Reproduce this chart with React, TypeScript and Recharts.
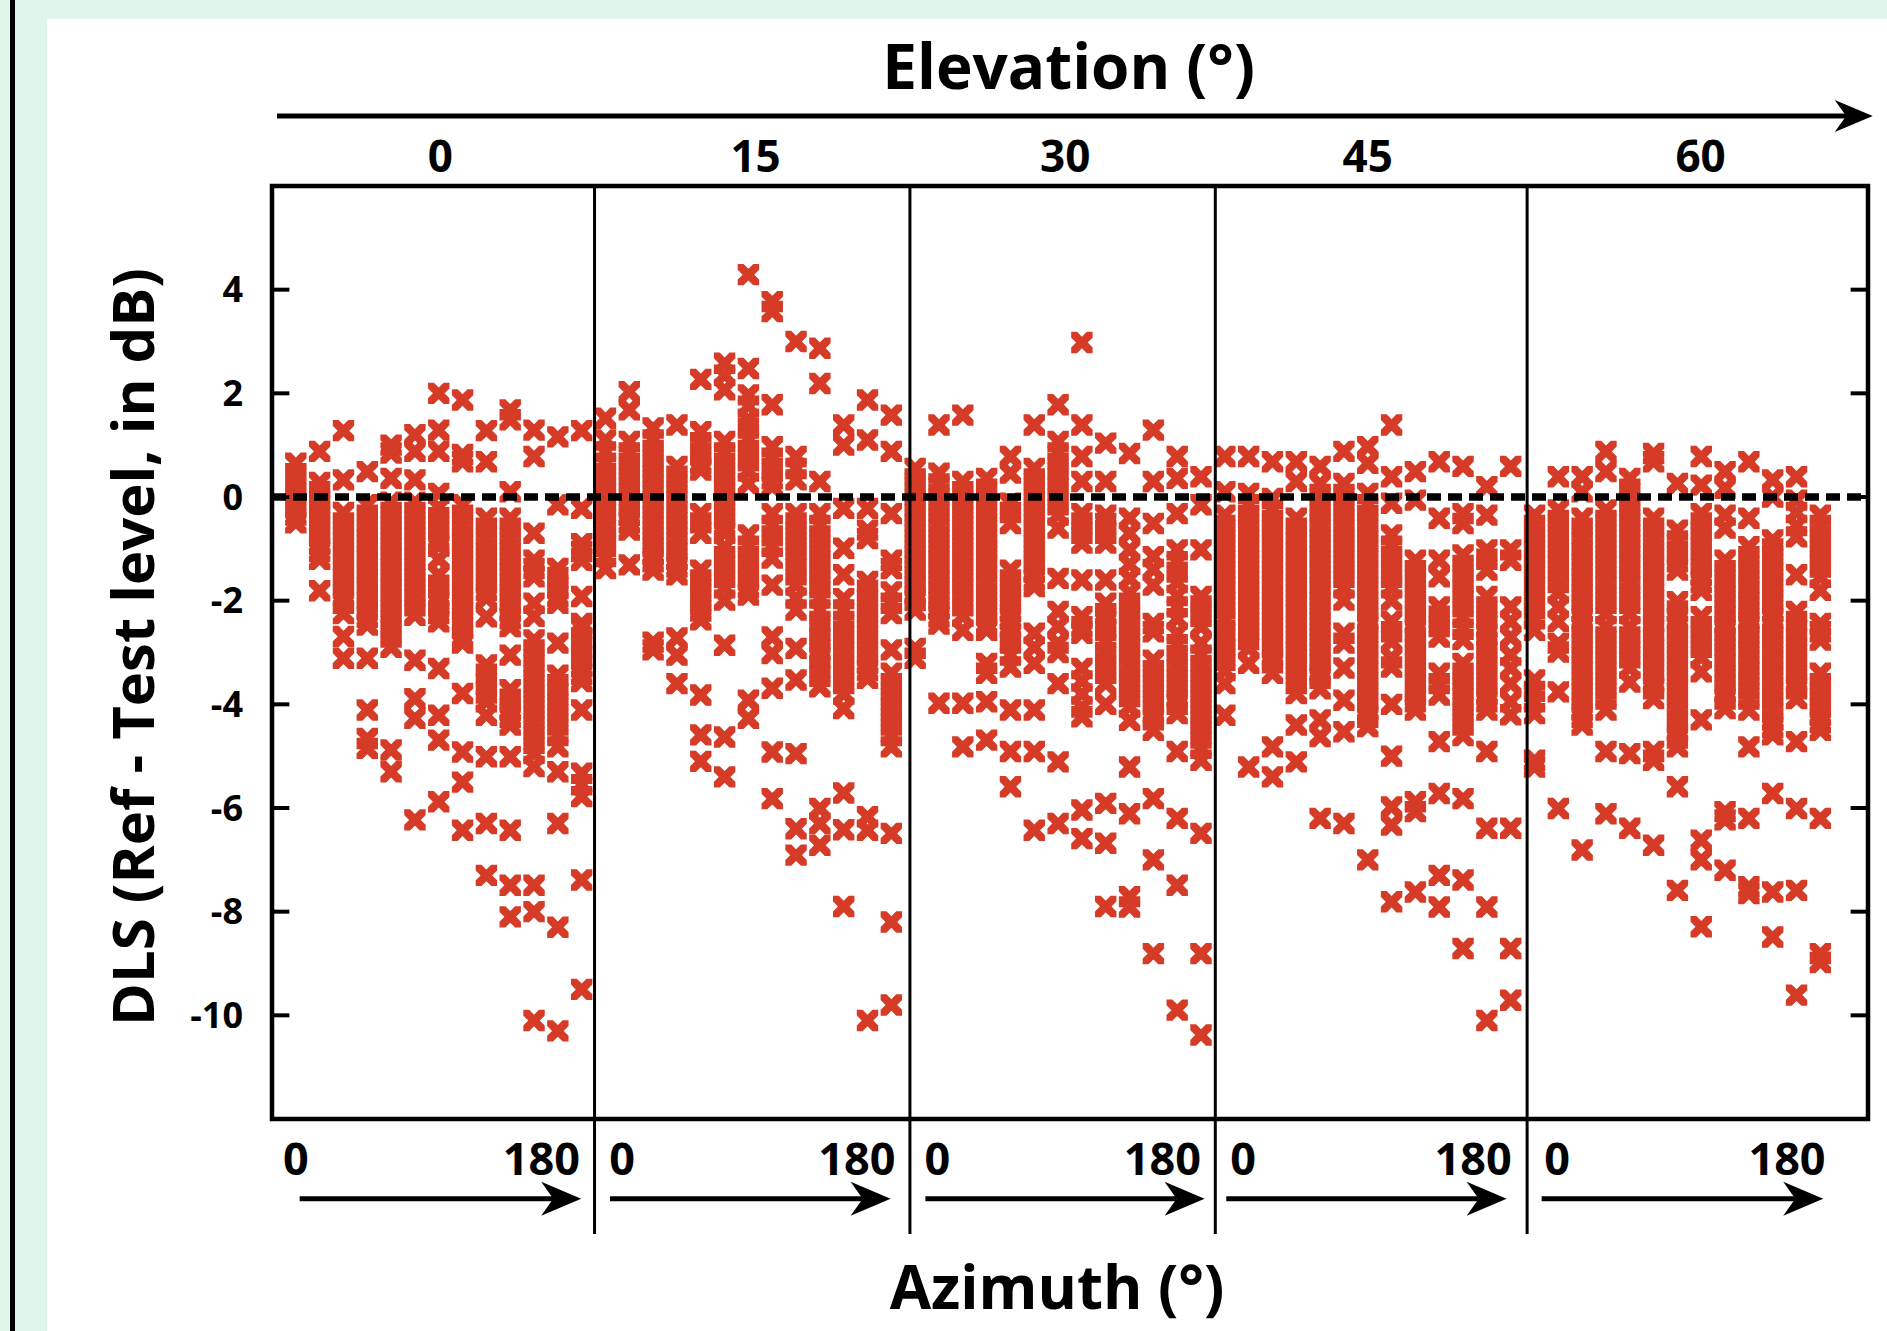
import React from "react";
import { ScatterChart, Scatter, XAxis, YAxis, ReferenceLine, ReferenceArea, ReferenceDot } from "recharts";

const FONT = "'Open Sans', 'Liberation Sans', sans-serif";
const RED = "#d53b26";

// DLS values (dB), one inner array per azimuth step (0..180 in 15 deg steps)
const elev0: number[][] = [
  [0.65, 0.45, 0.25, 0.05, -0.15, -0.35, -0.5],
  [0.88, 0.28, 0.1, -0.1, -0.3, -0.5, -0.7, -0.9, -1.05, -1.2, -1.81],
  [1.28, 0.33, -0.3, -0.5, -0.7, -0.9, -1.1, -1.3, -1.5, -1.7, -1.9, -2.05, -2.25, -2.69, -3.11],
  [0.49, -0.15, -0.35, -0.55, -0.75, -0.95, -1.15, -1.35, -1.55, -1.75, -1.95, -2.15, -2.32, -2.47, -3.11, -4.11, -4.66, -4.85],
  [1.0, 0.85, 0.36, -0.1, -0.3, -0.5, -0.7, -0.9, -1.1, -1.3, -1.5, -1.7, -1.9, -2.1, -2.3, -2.5, -2.7, -2.9, -4.88, -5.3],
  [1.2, 0.88, 0.33, -0.1, -0.3, -0.5, -0.7, -0.9, -1.1, -1.3, -1.5, -1.7, -1.9, -2.1, -2.28, -3.15, -3.89, -4.27, -6.23],
  [2.0, 1.29, 0.88, 0.07, -0.2, -0.4, -0.6, -0.8, -0.95, -1.2, -1.5, -1.7, -1.9, -2.05, -2.25, -2.41, -3.31, -4.21, -4.69, -5.88],
  [1.87, 0.82, 0.68, -0.15, -0.35, -0.55, -0.75, -0.95, -1.15, -1.35, -1.55, -1.75, -1.95, -2.15, -2.35, -2.53, -2.7, -2.82, -3.79, -4.92, -5.5, -6.43],
  [1.28, 0.68, -0.41, -0.6, -0.8, -1.0, -1.2, -1.4, -1.6, -1.8, -1.95, -2.31, -3.24, -3.42, -3.6, -3.78, -3.95, -4.21, -5.01, -6.3, -7.3],
  [1.68, 1.49, 0.1, -0.41, -0.6, -0.8, -1.0, -1.2, -1.4, -1.6, -1.8, -2.0, -2.18, -2.35, -2.5, -3.05, -3.72, -3.9, -4.11, -4.25, -4.4, -5.01, -6.43, -7.49, -8.1],
  [1.29, 0.78, -0.7, -1.22, -1.38, -1.54, -2.05, -2.3, -2.76, -2.95, -3.15, -3.35, -3.55, -3.75, -3.95, -4.15, -4.35, -4.55, -4.75, -4.95, -5.2, -7.49, -8.0, -10.1],
  [1.16, -0.15, -1.38, -1.55, -1.75, -1.92, -2.05, -2.82, -3.44, -3.62, -3.8, -4.0, -4.2, -4.4, -4.6, -4.82, -5.3, -6.3, -8.3, -10.3],
  [1.28, -0.22, -0.9, -1.05, -1.22, -1.92, -2.44, -2.53, -2.72, -2.9, -3.08, -3.27, -3.42, -3.56, -4.11, -5.33, -5.55, -5.78, -7.39, -9.5],
];

const elev15: number[][] = [
  [1.52, 1.1, 0.87, 0.65, 0.45, 0.25, 0.05, -0.15, -0.35, -0.55, -0.75, -0.95, -1.15, -1.38],
  [2.03, 1.68, 1.07, 0.85, 0.65, 0.45, 0.25, 0.05, -0.15, -0.35, -0.5, -0.64, -1.31],
  [1.33, 1.1, 0.9, 0.7, 0.5, 0.3, 0.1, -0.1, -0.3, -0.5, -0.7, -0.9, -1.1, -1.25, -1.41, -2.8, -2.95],
  [1.39, 0.59, 0.4, 0.2, 0.0, -0.2, -0.4, -0.6, -0.8, -1.0, -1.2, -1.35, -1.5, -2.72, -3.05, -3.6],
  [2.27, 1.26, 1.05, 0.85, 0.65, 0.52, -0.32, -0.5, -0.7, -1.41, -1.6, -1.8, -2.0, -2.2, -2.37, -3.82, -4.59, -5.1],
  [2.58, 2.35, 2.07, 1.07, 0.85, 0.65, 0.45, 0.25, 0.05, -0.15, -0.35, -0.55, -0.7, -0.96, -1.15, -1.35, -1.55, -1.75, -1.99, -2.86, -4.63, -5.4],
  [4.29, 2.48, 1.97, 1.75, 1.5, 1.33, 1.1, 0.9, 0.7, 0.5, 0.26, -0.73, -0.95, -1.15, -1.35, -1.55, -1.75, -1.89, -3.92, -4.27],
  [3.77, 3.58, 1.78, 0.97, 0.75, 0.55, 0.35, 0.2, -0.32, -0.55, -0.75, -0.95, -1.18, -1.7, -2.7, -3.02, -3.69, -4.92, -5.82],
  [3.0, 0.78, 0.55, 0.33, -0.32, -0.5, -0.7, -0.9, -1.1, -1.3, -1.5, -1.7, -1.95, -2.18, -2.92, -3.53, -4.95, -6.4, -6.91],
  [2.87, 2.19, 0.3, -0.32, -0.55, -0.75, -0.95, -1.15, -1.35, -1.55, -1.75, -1.95, -2.18, -2.4, -2.57, -2.75, -2.95, -3.1, -3.28, -3.46, -3.66, -6.01, -6.3, -6.72],
  [1.39, 1.0, -0.22, -0.99, -1.5, -1.96, -2.18, -2.4, -2.6, -2.8, -3.0, -3.2, -3.4, -3.6, -3.8, -4.08, -5.71, -6.42, -7.9],
  [1.87, 1.1, -0.22, -0.64, -0.8, -1.63, -1.8, -2.0, -2.2, -2.4, -2.6, -2.8, -3.0, -3.2, -3.35, -3.5, -6.17, -6.43, -10.1],
  [1.58, 0.88, -0.32, -1.22, -1.38, -1.83, -2.05, -2.25, -2.95, -3.4, -3.6, -3.8, -4.0, -4.2, -4.4, -4.6, -4.82, -6.49, -8.2, -9.8],
];

const elev30: number[][] = [
  [0.55, 0.35, 0.15, -0.05, -0.25, -0.45, -0.65, -0.85, -1.05, -1.25, -1.45, -1.65, -1.85, -2.0, -2.18, -2.92, -3.11],
  [1.39, 0.46, 0.25, 0.05, -0.15, -0.35, -0.55, -0.75, -0.95, -1.15, -1.35, -1.55, -1.75, -1.95, -2.15, -2.31, -2.45, -3.98],
  [1.58, 0.3, 0.1, -0.1, -0.3, -0.5, -0.7, -0.9, -1.1, -1.3, -1.5, -1.7, -1.9, -2.1, -2.3, -2.57, -3.98, -4.82],
  [0.36, 0.15, -0.05, -0.25, -0.45, -0.65, -0.85, -1.05, -1.25, -1.45, -1.65, -1.85, -2.05, -2.25, -2.45, -2.57, -3.21, -3.4, -3.95, -4.69],
  [0.78, 0.46, -0.12, -0.3, -0.51, -1.41, -1.6, -1.8, -2.0, -2.2, -2.35, -2.5, -2.65, -2.82, -3.05, -3.28, -4.11, -4.91, -5.59],
  [1.39, 0.55, 0.35, 0.15, -0.05, -0.25, -0.45, -0.65, -0.85, -1.05, -1.25, -1.45, -1.6, -1.73, -2.63, -2.9, -3.21, -4.11, -4.91, -6.43],
  [1.78, 1.07, 0.85, 0.65, 0.45, 0.25, 0.05, -0.15, -0.35, -0.6, -1.57, -2.21, -2.5, -2.82, -3.0, -3.6, -5.11, -6.3],
  [2.98, 1.39, 0.78, 0.3, -0.32, -0.5, -0.7, -0.89, -1.6, -2.31, -2.5, -2.63, -3.31, -3.55, -3.8, -4.05, -4.24, -6.04, -6.59],
  [1.04, 0.3, -0.35, -0.51, -0.7, -0.89, -1.6, -2.05, -2.25, -2.4, -2.57, -2.8, -3.0, -3.2, -3.4, -3.6, -4.0, -5.91, -6.68, -7.9],
  [0.84, -0.41, -0.7, -1.02, -1.3, -1.57, -1.85, -2.05, -2.25, -2.45, -2.65, -2.85, -3.05, -3.25, -3.45, -3.65, -3.85, -4.05, -4.31, -5.21, -6.11, -7.71, -7.91],
  [1.29, 0.3, -0.51, -1.15, -1.4, -1.7, -2.44, -2.6, -3.15, -3.35, -3.55, -3.75, -3.95, -4.15, -4.3, -4.5, -5.82, -7.0, -8.81],
  [0.78, 0.36, -0.32, -1.02, -1.25, -1.45, -1.65, -1.9, -2.12, -2.35, -2.63, -2.85, -3.05, -3.25, -3.45, -3.65, -3.85, -4.0, -4.18, -4.91, -6.2, -7.49, -9.9],
  [0.39, -0.15, -1.02, -1.92, -2.1, -2.3, -2.5, -2.82, -3.05, -3.25, -3.45, -3.65, -3.85, -4.05, -4.25, -4.45, -4.65, -4.85, -5.08, -6.49, -8.81, -10.38],
];

const elev45: number[][] = [
  [0.78, 0.1, -0.35, -0.55, -0.75, -0.95, -1.15, -1.35, -1.55, -1.75, -1.95, -2.15, -2.35, -2.57, -2.75, -2.95, -3.15, -3.35, -3.6, -4.21],
  [0.78, 0.07, -0.15, -0.35, -0.55, -0.75, -0.95, -1.15, -1.35, -1.55, -1.75, -1.95, -2.15, -2.35, -2.55, -2.75, -2.92, -3.21, -5.21],
  [0.68, -0.03, -0.25, -0.45, -0.65, -0.85, -1.05, -1.25, -1.45, -1.65, -1.85, -2.05, -2.25, -2.45, -2.65, -2.85, -3.05, -3.2, -3.4, -4.82, -5.4],
  [0.68, 0.3, -0.41, -0.6, -0.8, -1.0, -1.2, -1.4, -1.6, -1.8, -2.0, -2.2, -2.4, -2.6, -2.8, -3.0, -3.2, -3.4, -3.6, -3.79, -4.4, -5.11],
  [0.59, 0.26, 0.05, -0.15, -0.35, -0.55, -0.75, -0.95, -1.15, -1.35, -1.55, -1.75, -1.95, -2.15, -2.35, -2.55, -2.75, -2.95, -3.15, -3.35, -3.5, -3.7, -4.3, -4.62, -6.2],
  [0.88, 0.26, 0.05, -0.15, -0.35, -0.55, -0.75, -0.95, -1.15, -1.35, -1.55, -1.75, -1.99, -2.63, -2.82, -3.3, -3.92, -4.53, -6.3],
  [0.97, 0.65, 0.07, -0.15, -0.35, -0.55, -0.75, -0.95, -1.15, -1.35, -1.55, -1.75, -1.95, -2.15, -2.35, -2.5, -2.7, -2.9, -3.1, -3.3, -3.5, -3.7, -3.9, -4.1, -4.25, -4.43, -7.0],
  [1.39, 0.39, -0.12, -0.73, -0.95, -1.15, -1.35, -1.55, -1.75, -1.99, -2.4, -2.6, -2.79, -3.1, -3.28, -4.0, -5.0, -5.98, -6.33, -7.81],
  [0.49, -0.06, -1.22, -1.42, -1.62, -1.82, -2.02, -2.22, -2.42, -2.57, -2.75, -2.95, -3.15, -3.35, -3.55, -3.75, -3.95, -4.11, -5.88, -6.07, -7.62],
  [0.68, -0.41, -1.22, -1.54, -2.12, -2.3, -2.5, -2.7, -3.4, -3.6, -3.82, -4.72, -5.72, -7.3, -7.91],
  [0.59, -0.32, -0.51, -1.12, -1.32, -1.52, -1.72, -1.92, -2.12, -2.32, -2.55, -2.75, -3.21, -3.4, -3.6, -3.8, -4.0, -4.2, -4.4, -4.6, -5.82, -7.39, -8.71],
  [0.2, -0.35, -1.02, -1.2, -1.41, -1.92, -2.12, -2.32, -2.5, -2.65, -2.82, -3.0, -3.2, -3.4, -3.6, -3.8, -3.95, -4.11, -4.91, -6.39, -7.91, -10.1],
  [0.59, -1.02, -1.22, -2.12, -2.4, -2.7, -3.05, -3.3, -3.6, -3.95, -4.2, -6.39, -8.71, -9.71],
];

const elev60: number[][] = [
  [-0.35, -0.55, -0.75, -0.95, -1.15, -1.35, -1.55, -1.75, -1.95, -2.15, -2.35, -2.57, -3.53, -3.75, -3.95, -4.18, -5.08, -5.21],
  [0.39, -0.25, -0.45, -0.65, -0.85, -1.05, -1.25, -1.45, -1.65, -1.85, -2.12, -2.4, -2.82, -2.99, -3.76, -6.01],
  [0.39, 0.1, -0.41, -0.6, -0.8, -1.0, -1.2, -1.4, -1.6, -1.8, -2.0, -2.2, -2.35, -2.5, -2.7, -2.9, -3.1, -3.3, -3.5, -3.7, -3.9, -4.1, -4.25, -4.4, -6.81],
  [0.88, 0.49, -0.25, -0.45, -0.65, -0.85, -1.05, -1.25, -1.45, -1.65, -1.85, -2.05, -2.25, -2.5, -2.7, -2.9, -3.1, -3.3, -3.5, -3.7, -3.9, -4.11, -4.91, -6.11],
  [0.36, 0.15, -0.05, -0.25, -0.45, -0.65, -0.85, -1.05, -1.25, -1.45, -1.65, -1.85, -2.05, -2.25, -2.5, -2.7, -2.9, -3.1, -3.3, -3.57, -4.95, -6.39],
  [0.84, 0.68, -0.41, -0.6, -0.8, -1.0, -1.2, -1.4, -1.6, -1.8, -2.0, -2.2, -2.4, -2.57, -2.75, -2.95, -3.15, -3.35, -3.55, -3.7, -3.89, -4.91, -5.08, -6.72],
  [0.26, -0.64, -0.85, -1.05, -1.25, -1.41, -2.02, -2.2, -2.35, -2.5, -2.7, -2.9, -3.1, -3.3, -3.5, -3.7, -3.9, -4.1, -4.3, -4.5, -4.65, -4.82, -5.59, -7.59],
  [0.78, 0.23, -0.32, -0.5, -0.7, -0.9, -1.1, -1.3, -1.5, -1.65, -1.8, -2.31, -2.5, -2.7, -2.9, -3.1, -3.37, -4.3, -6.62, -7.0, -8.29],
  [0.49, 0.17, -0.35, -0.6, -1.22, -1.42, -1.62, -1.82, -2.02, -2.22, -2.42, -2.57, -2.75, -2.95, -3.15, -3.35, -3.55, -3.75, -3.9, -4.08, -6.07, -6.23, -7.2],
  [0.68, -0.41, -0.96, -1.15, -1.35, -1.55, -1.75, -1.95, -2.15, -2.35, -2.5, -2.7, -2.9, -3.1, -3.3, -3.5, -3.7, -3.9, -4.11, -4.82, -6.2, -7.52, -7.65],
  [0.33, 0.0, -0.83, -1.0, -1.2, -1.4, -1.6, -1.8, -2.0, -2.2, -2.35, -2.5, -2.7, -2.9, -3.1, -3.3, -3.5, -3.7, -3.9, -4.1, -4.3, -4.45, -4.59, -5.72, -7.62, -8.49],
  [0.39, -0.06, -0.3, -0.55, -0.77, -1.5, -2.21, -2.4, -2.57, -2.75, -2.95, -3.15, -3.35, -3.55, -3.7, -3.89, -4.72, -6.01, -7.59, -9.61],
  [-0.35, -0.55, -0.75, -0.95, -1.15, -1.35, -1.55, -1.8, -2.44, -2.6, -2.76, -3.4, -3.6, -3.8, -4.0, -4.2, -4.35, -4.5, -6.2, -8.81, -8.98],
];

const elevations = [elev0, elev15, elev30, elev45, elev60];
const elevationLabels = ["0", "15", "30", "45", "60"];
const elevationLabelPos = [6.07, 19.3, 32.3, 45.0, 58.97];
const azimuthLabels = ["0", "180", "0", "180", "0", "180", "0", "180", "0", "180"];
const azimuthLabelPos = [0, 10.31, 13.7, 23.55, 26.93, 36.38, 39.77, 49.42, 52.95, 62.6];
const panelDividers = [12.54, 25.78, 38.6, 51.69];
const azimuthArrows = [
  [0.16, 11.98],
  [13.19, 24.97],
  [26.43, 38.15],
  [39.06, 50.83],
  [52.3, 64.12],
];
const yTicks = [-10, -8, -6, -4, -2, 0, 2, 4];

// flatten: x = running azimuth index across the five elevation panels
const points: { x: number; y: number }[] = [];
elevations.forEach((cols, e) => {
  cols.forEach((vals, j) => {
    vals.forEach((v) => points.push({ x: e * 13 + j, y: v }));
  });
});

const H = 10.7;
const A = 5.8;
const Cross = (props: any) => {
  const { cx, cy } = props;
  if (cx == null || cy == null) return null;
  const d =
    `M${cx - H},${cy - H}h${A}L${cx},${cy - A}L${cx + H - A},${cy - H}h${A}v${A}` +
    `L${cx + A},${cy}L${cx + H},${cy + H - A}v${A}h${-A}L${cx},${cy + A}` +
    `L${cx - H + A},${cy + H}h${-A}v${-A}L${cx - A},${cy}L${cx - H},${cy - H + A}Z`;
  return <path d={d} fill={RED} />;
};

const arrowShape = (head: number, half: number, width: number) => (props: any) => {
  const { x1, y1, x2, y2 } = props;
  const notch = head * 0.3;
  return (
    <g>
      <line x1={x1} y1={y1} x2={x2 - head + notch} y2={y2} stroke="#000" strokeWidth={width} />
      <path
        d={`M${x2},${y2}L${x2 - head},${y2 - half}L${x2 - head + notch},${y2}L${x2 - head},${y2 + half}Z`}
        fill="#000"
      />
    </g>
  );
};

const textStyle = { fontFamily: FONT, fontWeight: 700, fill: "#000" } as const;

const textShape = (value: string, size: number, dy: number) => (props: any) => (
  <text x={props.cx} y={props.cy + dy} textAnchor="middle" fontSize={size} {...textStyle}>
    {value}
  </text>
);

const Z = 700;

export default function App() {
  return (
    <div style={{ position: "absolute", left: 0, top: 0, width: 1887, height: 1331, background: "#dff7ea" }}>
      <div style={{ position: "absolute", left: 10, top: 0, width: 5, height: 1331, background: "#000" }} />
      <div style={{ position: "absolute", left: 47, top: 19, right: 0, bottom: 0, background: "#fff" }} />
      <div style={{ position: "absolute", left: 0, top: 0 }}>
        <ScatterChart width={1887} height={1331} margin={{ top: 186, right: 19, bottom: 211, left: 0 }}>
          <XAxis
            xAxisId="main"
            type="number"
            dataKey="x"
            domain={[-1, 66]}
            allowDataOverflow
            ticks={azimuthLabelPos}
            interval={0}
            height={1}
            axisLine={false}
            tickLine={false}
            tickSize={0}
            tickMargin={0}
            tick={(p: any) => (
              <text x={p.x} y={p.y + 56} textAnchor="middle" fontSize={45} {...textStyle}>
                {azimuthLabels[p.index]}
              </text>
            )}
            label={(p: any) => {
              const vb = p.viewBox;
              return (
                <text x={vb.x + vb.width / 2 - 13} y={vb.y + 190} textAnchor="middle" fontSize={60} {...textStyle}>
                  Azimuth (°)
                </text>
              );
            }}
          />
          <YAxis
            yAxisId="y"
            type="number"
            dataKey="y"
            domain={[-12, 6]}
            allowDataOverflow
            ticks={yTicks}
            interval={0}
            width={272}
            axisLine={false}
            tickLine={false}
            tickSize={0}
            tickMargin={29}
            tick={{ fontSize: 36, fontFamily: FONT, fontWeight: 700, fill: "#000" }}
            label={() => {
              const cx = 154;
              const cy = 647;
              return (
                <text
                  x={cx}
                  y={cy}
                  transform={`rotate(-90 ${cx} ${cy})`}
                  textAnchor="middle"
                  fontSize={58}
                  {...textStyle}
                >
                  DLS (Ref - Test level, in dB)
                </text>
              );
            }}
          />

          <Scatter data={points} xAxisId="main" yAxisId="y" shape={Cross} isAnimationActive={false} />

          <ReferenceLine
            xAxisId="main"
            yAxisId="y"
            y={0}
            stroke="#000"
            strokeWidth={7.5}
            strokeDasharray="14 7"
            zIndex={Z}
          />

          {panelDividers.map((d) => (
            <ReferenceLine
              key={`div-${d}`}
              xAxisId="main"
              yAxisId="y"
              segment={[{ x: d, y: 6 }, { x: d, y: -14.22 }]}
              stroke="#000"
              strokeWidth={3}
              ifOverflow="visible"
              zIndex={Z}
            />
          ))}

          {yTicks.map((t) => (
            <ReferenceLine
              key={`tl-${t}`}
              xAxisId="main"
              yAxisId="y"
              segment={[{ x: -1, y: t }, { x: -0.27, y: t }]}
              stroke="#000"
              strokeWidth={4}
              ifOverflow="visible"
              zIndex={Z}
            />
          ))}
          {yTicks.map((t) => (
            <ReferenceLine
              key={`tr-${t}`}
              xAxisId="main"
              yAxisId="y"
              segment={[{ x: 65.27, y: t }, { x: 66, y: t }]}
              stroke="#000"
              strokeWidth={4}
              ifOverflow="visible"
              zIndex={Z}
            />
          ))}

          <ReferenceLine
            xAxisId="main"
            yAxisId="y"
            segment={[{ x: -0.79, y: 7.35 }, { x: 66.2, y: 7.35 }]}
            ifOverflow="visible"
            shape={arrowShape(38, 16, 5)}
            zIndex={Z}
          />
          {azimuthArrows.map(([a, b]) => (
            <ReferenceLine
              key={`arr-${a}`}
              xAxisId="main"
              yAxisId="y"
              segment={[{ x: a, y: -13.54 }, { x: b, y: -13.54 }]}
              ifOverflow="visible"
              shape={arrowShape(40, 17, 5)}
              zIndex={Z}
            />
          ))}

          {elevationLabelPos.map((pos, i) => (
            <ReferenceDot
              key={`el-${i}`}
              xAxisId="main"
              yAxisId="y"
              x={pos}
              y={6}
              r={0}
              ifOverflow="visible"
              shape={textShape(elevationLabels[i], 44, -14)}
              zIndex={Z}
            />
          ))}
          <ReferenceDot
            xAxisId="main"
            yAxisId="y"
            x={32.44}
            y={7.88}
            r={0}
            ifOverflow="visible"
            shape={textShape("Elevation (°)", 62, 0)}
            zIndex={Z}
          />

          <ReferenceArea
            xAxisId="main"
            yAxisId="y"
            x1={-1}
            x2={66}
            y1={-12}
            y2={6}
            fill="none"
            stroke="#000"
            strokeWidth={4.5}
            ifOverflow="visible"
            zIndex={Z}
          />
        </ScatterChart>
      </div>
    </div>
  );
}
